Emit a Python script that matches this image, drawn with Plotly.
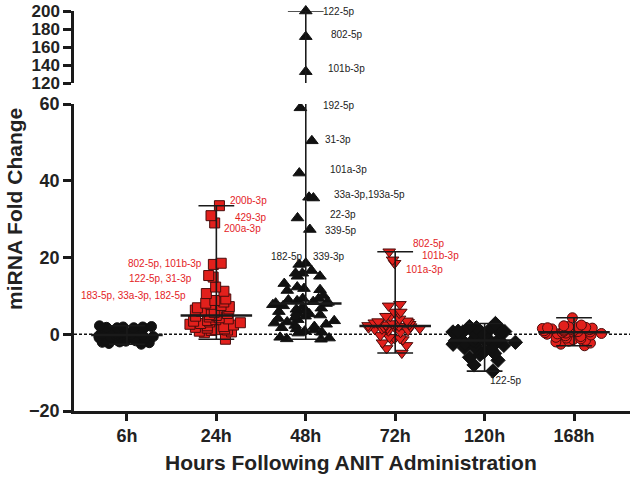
import numpy as np
import plotly.graph_objects as go

# ---------------- data ----------------
groups = ["6h", "24h", "48h", "72h", "120h", "168h"]

h6 = [2.2, 1.9, 1.7, 1.6, 1.8, 2.0, 1.5, 1.9, 1.7, 1.4, 0.9, 0.6, 0.4, 0.2,
      0.1, 0.0, -0.1, -0.2, -0.3, -0.2, -0.4, -0.5, -0.7, -0.9, -1.0, -1.2,
      -1.4, -1.5, -1.6, -1.8, -1.9, -2.0, -2.1, -2.2, -2.4, -2.6, -1.7, 0.3,
      -0.6, 1.2]

h24 = [33.5, 30.9, 29.0, 18.5, 18.2, 15.3, 14.9, 12.3, 11.2, 10.6,
       9.2, 8.8, 8.4, 8.1, 7.8, 7.5, 7.2, 6.9, 6.6, 6.3, 6.0, 5.7, 5.4, 5.1, 4.9,
       4.7, 4.5, 4.3, 4.0, 3.8, 3.6, 3.4, 3.2, 3.0, 2.8, 2.6, 2.4, 2.2, 2.0,
       1.8, 1.6, 1.4, 1.2, 1.0, 0.8, 0.6, 0.4, 1.1, -1.3]

h48 = [200.0, 171.5, 132.6,
       59.0, 50.4, 42.0, 35.7, 35.5, 30.3, 27.3,
       18.5, 18.2, 16.6, 15.9, 15.9, 15.1, 15.1, 13.2, 12.3, 11.9, 11.6, 11.4,
       10.1, 9.3, 9.3,
       8.9, 8.7, 8.5, 8.3, 8.1, 8.0,
       7.7, 7.4, 7.1, 6.8, 6.5, 6.2, 5.9, 5.6, 5.3, 5.0, 4.7, 4.4, 4.1, 3.8,
       3.5, 3.2, 2.9, 2.6, 2.3, 2.0, 1.7, 1.4, 1.1, 0.8, 0.5, 0.3, -0.8, -1.0,
       -1.2, -1.3]

h72 = [21.5, 19.4, 18.5,
       7.8, 7.4, 5.8, 5.5, 5.8, 4.7, 4.7, 4.0,
       3.5, 3.3, 3.1, 3.0, 2.9, 2.8, 2.6, 2.5, 2.4, 2.3, 2.2, 2.1, 2.0, 1.9,
       1.8, 1.7, 1.6, 1.5, 1.4, 1.3,
       1.0, 0.9, 0.5, -0.3, -0.8, -1.1, -1.4, -1.1, -1.4, -2.2, -2.9, -3.7, -4.9]

h120 = [2.8, 2.0, 1.7, 1.5, 0.9, 0.8, 0.7, 0.6, 0.6, 0.5, 0.4, 0.2, -0.3,
        -0.6, -0.9, -1.2, -1.4, -1.5, -1.6, -1.7, -1.9, -2.1, -2.3, -2.6,
        -2.9, -3.1, -3.3, -3.5, -3.8, -4.2, -4.6, -5.0, -5.3, -6.0, -6.8,
        -8.0, -9.6]

h168 = [4.3, 2.4, 2.2, 2.0, 1.9, 1.8, 1.7, 1.6, 1.5, 1.4, 1.3, 1.2, 1.1,
        1.0, 0.9, 0.8, 0.7, 0.6, 0.6, 0.5, 0.4, 0.3, 0.2, 0.1, 0.0, -0.2,
        -0.4, -0.6, -0.8, -1.0, -1.2, -1.4, -1.6, -1.8, -2.0, -2.3, -2.6, -3.0]

series = [h6, h24, h48, h72, h120, h168]

y_ticks_low = [-20, 0, 20, 40, 60]
y_ticks_high = [120, 140, 160, 180, 200]

# labels: text, x position, value, which y-axis, anchor, colour
RED = "#e3231f"
DARK = "#222222"
labels = [
    ("183-5p, 33a-3p, 182-5p", 1.685, 10.0, "y", "right", RED),
    ("122-5p, 31-3p", 1.752, 14.6, "y", "right", RED),
    ("802-5p, 101b-3p", 1.860, 18.4, "y", "right", RED),
    ("200b-3p", 2.125, 34.8, "y", "left", RED),
    ("429-3p", 2.181, 30.5, "y", "left", RED),
    ("200a-3p", 2.065, 27.6, "y", "left", RED),
    ("122-5p", 3.175, 200.0, "y2", "left", DARK),
    ("802-5p", 3.260, 174.0, "y2", "left", DARK),
    ("101b-3p", 3.231, 136.3, "y2", "left", DARK),
    ("192-5p", 3.175, 59.7, "y", "left", DARK),
    ("31-3p", 3.193, 50.8, "y", "left", DARK),
    ("101a-3p", 3.254, 42.9, "y", "left", DARK),
    ("33a-3p,193a-5p", 3.298, 36.4, "y", "left", DARK),
    ("22-3p", 3.243, 31.3, "y", "left", DARK),
    ("339-5p", 3.193, 27.1, "y", "left", DARK),
    ("182-5p", 2.989, 20.3, "y", "right", DARK),
    ("339-3p", 3.064, 20.3, "y", "left", DARK),
    ("802-5p", 4.181, 23.6, "y", "left", RED),
    ("101b-3p", 4.282, 20.5, "y", "left", RED),
    ("101a-3p", 4.098, 16.8, "y", "left", RED),
    ("122-5p", 5.037, -12.1, "y", "left", DARK),
]

# ---------------- styling ----------------
FONT = "Liberation Sans, Arial, sans-serif"
RED_FILL = "#e2201c"
RED_EDGE = "#4a0c0c"
BLACK = "#111111"
styles = [
    dict(symbol="circle", size=10, color=BLACK, line=dict(color=BLACK, width=1)),
    dict(symbol="square", size=10, color=RED_FILL, line=dict(color=RED_EDGE, width=1)),
    dict(symbol="triangle-up", size=11, color=BLACK, line=dict(color=BLACK, width=1)),
    dict(symbol="triangle-down", size=11, color=RED_FILL, line=dict(color=RED_EDGE, width=1)),
    dict(symbol="diamond", size=11, color=BLACK, line=dict(color=BLACK, width=1)),
    dict(symbol="circle", size=10, color=RED_FILL, line=dict(color=RED_EDGE, width=1)),
]
spread = [0.8, 0.64, 0.84, 0.76, 0.8, 0.8]
LOW_MAX = 60
HIGH_MIN = 120
CAP = 0.2
MED = 0.4
LINEC = "#1a1a1a"

fig = go.Figure()

for i, vals in enumerate(series):
    pos = i + 1
    arr = np.array(vals, dtype=float)
    low = arr[arr <= LOW_MAX]
    high = arr[arr > LOW_MAX]
    fig.add_trace(go.Box(
        y=low, x0=pos, xaxis="x", yaxis="y",
        boxpoints="all", jitter=1, pointpos=0, width=spread[i],
        marker=styles[i], line=dict(color="rgba(0,0,0,0)", width=0),
        fillcolor="rgba(0,0,0,0)", whiskerwidth=0, showlegend=False,
        hoverinfo="skip"))
    if len(high):
        fig.add_trace(go.Scatter(
            x=[pos] * len(high), y=high, xaxis="x", yaxis="y2", mode="markers",
            marker=styles[i], showlegend=False, cliponaxis=False, hoverinfo="skip"))

# median + range lines
for i, vals in enumerate(series):
    pos = i + 1
    arr = np.array(vals, dtype=float)
    vmin, vmax, vmed = arr.min(), arr.max(), float(np.median(arr))
    line_kw = dict(mode="lines", showlegend=False, cliponaxis=False, hoverinfo="skip")
    fig.add_trace(go.Scatter(x=[pos, pos], y=[vmin, min(vmax, LOW_MAX)], yaxis="y",
                             line=dict(color=LINEC, width=1.6), **line_kw))
    fig.add_trace(go.Scatter(x=[pos - CAP, pos + CAP], y=[vmin, vmin], yaxis="y",
                             line=dict(color=LINEC, width=1.6), **line_kw))
    if vmax <= LOW_MAX:
        fig.add_trace(go.Scatter(x=[pos - CAP, pos + CAP], y=[vmax, vmax], yaxis="y",
                                 line=dict(color=LINEC, width=1.6), **line_kw))
    else:
        fig.add_trace(go.Scatter(x=[pos, pos], y=[HIGH_MIN, vmax], yaxis="y2",
                                 line=dict(color=LINEC, width=1.6), **line_kw))
        fig.add_trace(go.Scatter(x=[pos - CAP, pos + CAP], y=[vmax, vmax], yaxis="y2",
                                 line=dict(color=LINEC, width=1.6), **line_kw))
    fig.add_trace(go.Scatter(x=[pos - MED, pos + MED], y=[vmed, vmed], yaxis="y",
                             line=dict(color=LINEC, width=2.5), **line_kw))

def axis_style(size):
    return dict(showline=True, linecolor="#1a1a1a", linewidth=2.5, ticks="outside",
                tickcolor="#1a1a1a", tickwidth=2.5, showgrid=False, zeroline=False,
                automargin=False,
                tickfont=dict(family=FONT, size=size, color=DARK, weight="bold"))

fig.update_layout(
    width=633, height=477,
    margin=dict(l=74, r=3, t=11, b=66, autoexpand=False),
    paper_bgcolor="white", plot_bgcolor="white",
    boxgap=0, boxgroupgap=0,
    xaxis=dict(range=[0.408, 6.626], tickvals=[1, 2, 3, 4, 5, 6], ticktext=groups,
               ticklen=7, anchor="y", **axis_style(18)),
    yaxis=dict(domain=[0, 0.7675], range=[-20, 60], tickvals=y_ticks_low, ticklen=8,
               anchor="x", **axis_style(18)),
    yaxis2=dict(domain=[0.82, 1], range=[120, 200], tickvals=y_ticks_high, ticklen=8,
                anchor="x", **axis_style(17)),
    shapes=[dict(type="line", xref="paper", x0=0, x1=1, yref="y", y0=0, y1=0,
                 line=dict(color="#111", width=1.3, dash="3px,2px"), layer="below")],
)

ann = []
for text, x, y, yref, anchor, color in labels:
    ann.append(dict(text=text, x=x, y=y, xref="x", yref=yref, xanchor=anchor,
                    yanchor="middle", showarrow=False,
                    font=dict(family=FONT, size=10, color=color)))
ann.append(dict(text="miRNA Fold Change", x=-0.108, y=0.505, xref="paper", yref="paper",
                textangle=-90, showarrow=False, xanchor="center", yanchor="middle",
                font=dict(family=FONT, size=21, color=DARK, weight="bold")))
ann.append(dict(text="Hours Following ANIT Administration", x=0.499, y=-0.13,
                xref="paper", yref="paper", showarrow=False, xanchor="center",
                yanchor="middle",
                font=dict(family=FONT, size=21, color=DARK, weight="bold")))
fig.update_layout(annotations=ann)

fig.write_html("out.html", config={"displayModeBar": False},
               post_script="document.body.style.margin='0';document.body.style.overflow='hidden';")
